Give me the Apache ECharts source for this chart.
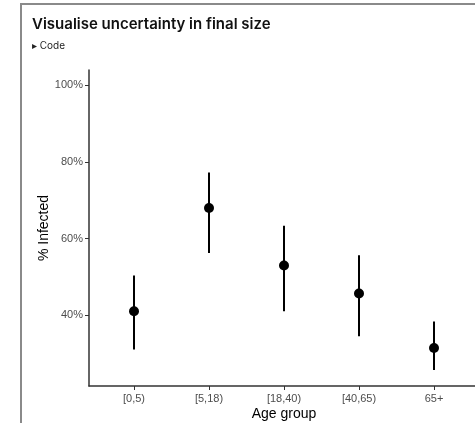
<!DOCTYPE html>
<html>
<head>
<meta charset="utf-8">
<script src="https://cdn.jsdelivr.net/npm/echarts@6/dist/echarts.min.js"></script>
<style>
  html, body { margin: 0; padding: 0; background: #fff; }
  #main { width: 475px; height: 423px; }
</style>
</head>
<body>
<div id="main"></div>
<script>
// age groups and estimated final size (% infected) with uncertainty bounds
const ageGroups = ['[0,5)', '[5,18)', '[18,40)', '[40,65)', '65+'];
const median = [41.1, 68.0, 53.0, 45.7, 31.5];
const lower = [31.1, 56.3, 41.1, 34.6, 25.8];
const upper = [50.4, 77.3, 63.4, 55.7, 38.4];
const yTicks = [40, 60, 80, 100];

const chart = echarts.init(document.getElementById('main'), null, { renderer: 'canvas' });

const pointData = median.map((v, i) => [i, v]);
const barData = ageGroups.map((g, i) => [i, lower[i], upper[i]]);

const labelColor = '#4d4d4d';
const font = 'Liberation Sans, Arial, sans-serif';

chart.setOption({
  animation: false,
  title: {
    text: 'Visualise uncertainty in final size',
    subtext: '\u25B8 Code',
    left: 27,
    top: 12,
    itemGap: 9,
    textStyle: {
      fontFamily: 'Inter',
      fontSize: 15,
      fontWeight: 600,
      color: '#111'
    },
    subtextStyle: {
      fontFamily: 'Inter',
      fontSize: 10,
      color: '#222'
    }
  },
  graphic: [{
    type: 'polyline',
    shape: { points: [[21, 423], [21, 4], [475, 4]] },
    style: { stroke: '#8a8a8a', lineWidth: 2, fill: null },
    silent: true
  }],
  grid: {
    left: 89,
    top: 70,
    right: -4,
    bottom: 37,
    outerBoundsMode: 'none'
  },
  xAxis: {
    type: 'value',
    min: -0.6,
    max: 4.6,
    name: 'Age group',
    nameLocation: 'middle',
    nameGap: 21,
    nameMoveOverlap: false,
    nameTextStyle: { fontFamily: font, fontSize: 14, color: '#000' },
    splitLine: { show: false },
    axisLine: { show: true, onZero: false, lineStyle: { color: '#333', width: 1.5 } },
    axisTick: {
      show: true,
      length: 4,
      customValues: [0, 1, 2, 3, 4],
      lineStyle: { color: '#333' }
    },
    axisLabel: {
      customValues: [0, 1, 2, 3, 4],
      margin: 7,
      fontFamily: font,
      fontSize: 11,
      color: labelColor,
      formatter: function (v) {
        return ageGroups[Math.round(v)] || '';
      }
    }
  },
  yAxis: {
    type: 'value',
    min: 21.6,
    max: 104,
    name: '% Infected',
    nameLocation: 'middle',
    nameGap: 38,
    nameMoveOverlap: false,
    nameTextStyle: { fontFamily: font, fontSize: 14, color: '#000' },
    splitLine: { show: false },
    axisLine: { show: true, onZero: false, lineStyle: { color: '#333', width: 1.5 } },
    axisTick: {
      show: true,
      length: 4,
      customValues: yTicks,
      lineStyle: { color: '#333' }
    },
    axisLabel: {
      customValues: yTicks,
      margin: 6,
      fontFamily: font,
      fontSize: 11,
      color: labelColor,
      formatter: function (v) {
        return v + '%';
      }
    }
  },
  series: [{
    type: 'custom',
    data: barData,
    renderItem: function (params, api) {
      const top = api.coord([api.value(0), api.value(2)]);
      const bottom = api.coord([api.value(0), api.value(1)]);
      return {
        type: 'line',
        shape: { x1: top[0], y1: top[1], x2: bottom[0], y2: bottom[1] },
        style: { stroke: '#000', lineWidth: 2 }
      };
    },
    z: 2
  }, {
    type: 'scatter',
    data: pointData,
    symbol: 'circle',
    symbolSize: 10,
    itemStyle: { color: '#000', opacity: 1 },
    z: 3
  }]
});
</script>
</body>
</html>
